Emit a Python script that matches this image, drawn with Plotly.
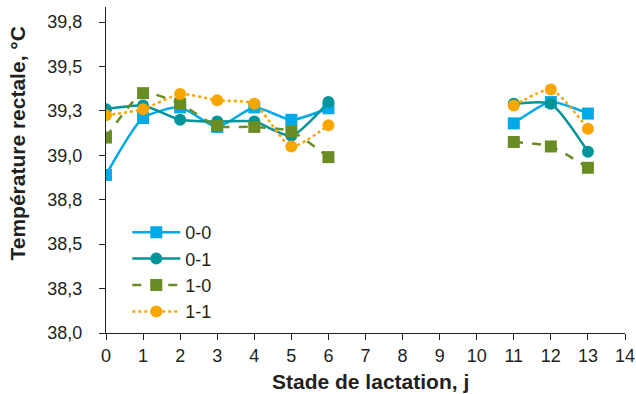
import plotly.graph_objects as go

days = [0, 1, 2, 3, 4, 5, 6, 7, 8, 9, 10, 11, 12, 13]
s00 = [38.89, 39.21, 39.27, 39.16, 39.27, 39.20, 39.265, None, None, None, None, 39.18, 39.30, 39.235]
s01 = [39.26, 39.28, 39.20, 39.19, 39.19, 39.11, 39.30, None, None, None, None, 39.29, 39.29, 39.02]
s10 = [39.10, 39.35, 39.29, 39.165, 39.16, 39.135, 38.99, None, None, None, None, 39.075, 39.05, 38.93]
s11 = [39.225, 39.26, 39.345, 39.31, 39.29, 39.05, 39.17, None, None, None, None, 39.28, 39.37, 39.15]

yticks = [38.0, 38.25, 38.5, 38.75, 39.0, 39.25, 39.5, 39.75]
yticklabels = ["38,0", "38,3", "38,5", "38,8", "39,0", "39,3", "39,5", "39,8"]
xticks = list(range(0, 15))

series = [
    ("0-0", s00, "#00A9E8", "solid", "square"),
    ("0-1", s01, "#00959A", "solid", "circle"),
    ("1-0", s10, "#6A8C24", "dash", "square"),
    ("1-1", s11, "#F7A600", "dot", "circle"),
]

fig = go.Figure()
for name, vals, col, dash, sym in series:
    fig.add_trace(go.Scatter(
        x=days, y=vals, name=name, mode="lines+markers",
        line=dict(color=col, width=2.5, dash=dash, shape="spline", smoothing=0.6),
        marker=dict(symbol=sym, size=12, color=col),
        connectgaps=False,
    ))

font_col = "#231F20"
fig.update_layout(
    width=636, height=394,
    margin=dict(l=106, r=11, t=7, b=61),
    paper_bgcolor="white", plot_bgcolor="white",
    font=dict(family="Liberation Sans, Arial, sans-serif", size=18, color=font_col),
    showlegend=True,
    legend=dict(x=0.041, y=0.365, xanchor="left", yanchor="top",
                bgcolor="rgba(0,0,0,0)", font=dict(size=18, color=font_col),
                tracegroupgap=0, itemwidth=48),
    xaxis=dict(range=[0, 14], tickvals=xticks, ticks="outside", ticklen=6,
               tickcolor=font_col, showline=True, linecolor=font_col, linewidth=1,
               showgrid=False, zeroline=False, automargin=False,
               ticklabelstandoff=0,
               tickfont=dict(size=18, color=font_col)),
    yaxis=dict(range=[38.0, 39.835], tickvals=yticks, ticktext=yticklabels,
               ticks="outside", ticklen=6, tickcolor=font_col,
               showline=True, linecolor=font_col, linewidth=1,
               showgrid=False, zeroline=False, automargin=False,
               ticklabelstandoff=13,
               tickfont=dict(size=18, color=font_col)),
    annotations=[
        dict(text="<b>Stade de lactation, j</b>", xref="paper", yref="paper",
             x=0.5087, y=-0.15, xanchor="center", yanchor="middle",
             showarrow=False, font=dict(size=21, color=font_col)),
        dict(text="<b>Température rectale, °C</b>", xref="paper", yref="paper",
             x=-0.1696, y=0.581, xanchor="center", yanchor="middle",
             textangle=-90, showarrow=False, font=dict(size=21, color=font_col)),
    ],
)

fig.write_html("out.html", config={"displayModeBar": False},
               post_script="document.body.style.margin='0';document.body.style.padding='0';")
